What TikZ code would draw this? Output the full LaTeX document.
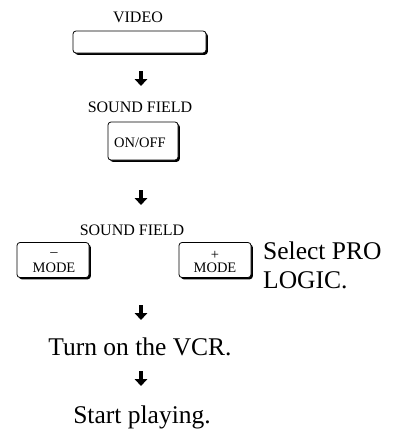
\documentclass[tikz,border=0pt]{standalone}
\usepackage{fontspec}
\setmainfont{Liberation Serif}
\usetikzlibrary{arrows.meta,shadows}
\begin{document}
\begin{tikzpicture}[x=1pt,y=1pt,
  lbl/.style={inner sep=0pt, anchor=base, font=\fontsize{16}{19}\selectfont},
  btxt/.style={inner sep=0pt, anchor=base, font=\fontsize{14.5}{17}\selectfont},
  sym/.style={inner sep=0pt, anchor=center, font=\fontsize{14.5}{17}\selectfont},
  big/.style={inner sep=0pt, anchor=base, font=\fontsize{25.5}{30}\selectfont},
  btn/.style={draw, fill=white, rounded corners=3pt, line width=0.8pt, inner sep=0pt,
    drop shadow={shadow xshift=1.8pt, shadow yshift=-1.8pt, fill=black, opacity=1}},
  down/.style={line width=4.2pt, -{Triangle[length=7pt,width=12.5pt]}},
]
\useasboundingbox (0,0) rectangle (397,-431);

% VIDEO
\node[lbl] (videolbl) at (138,-23) {VIDEO};
\node[btn, minimum width=133pt, minimum height=22pt] (video) at (139.5,-42) {};
\coordinate (a1s) at (141,-71);
\coordinate (a1e) at (141,-86);
\draw[down] (a1s) -- (a1e);

% SOUND FIELD ON/OFF
\node[lbl] (sf1) at (140,-112) {SOUND FIELD};
\node[btn, minimum width=70pt, minimum height=38pt] (onoff) at (143,-141) {};
\node[btxt] (onofftxt) at (140,-147) {ON/OFF};
\coordinate (a2s) at (141,-190);
\coordinate (a2e) at (141,-205);
\draw[down] (a2s) -- (a2e);

% SOUND FIELD MODE
\node[lbl] (sf2) at (132,-235) {SOUND FIELD};
\node[btn, minimum width=72pt, minimum height=35pt] (minus) at (53,-260) {};
\node[sym] (minussym) at (54,-255) {--};
\node[btxt] (minusmode) at (54,-272.5) {MODE};
\node[btn, minimum width=72pt, minimum height=35pt] (plus) at (215,-260) {};
\node[sym] (plussym) at (215,-255) {+};
\node[btxt] (plusmode) at (215,-272.5) {MODE};
\node[big, anchor=base west] (sel1) at (263,-259) {Select PRO};
\node[big, anchor=base west] (sel2) at (263,-288) {LOGIC.};
\coordinate (a3s) at (141,-305);
\coordinate (a3e) at (141,-320);
\draw[down] (a3s) -- (a3e);

% VCR
\node[big] (vcr) at (140,-355) {Turn on the VCR.};
\coordinate (a4s) at (141,-371);
\coordinate (a4e) at (141,-386);
\draw[down] (a4s) -- (a4e);
\node[big] (play) at (142,-423) {Start playing.};
\end{tikzpicture}
\end{document}
